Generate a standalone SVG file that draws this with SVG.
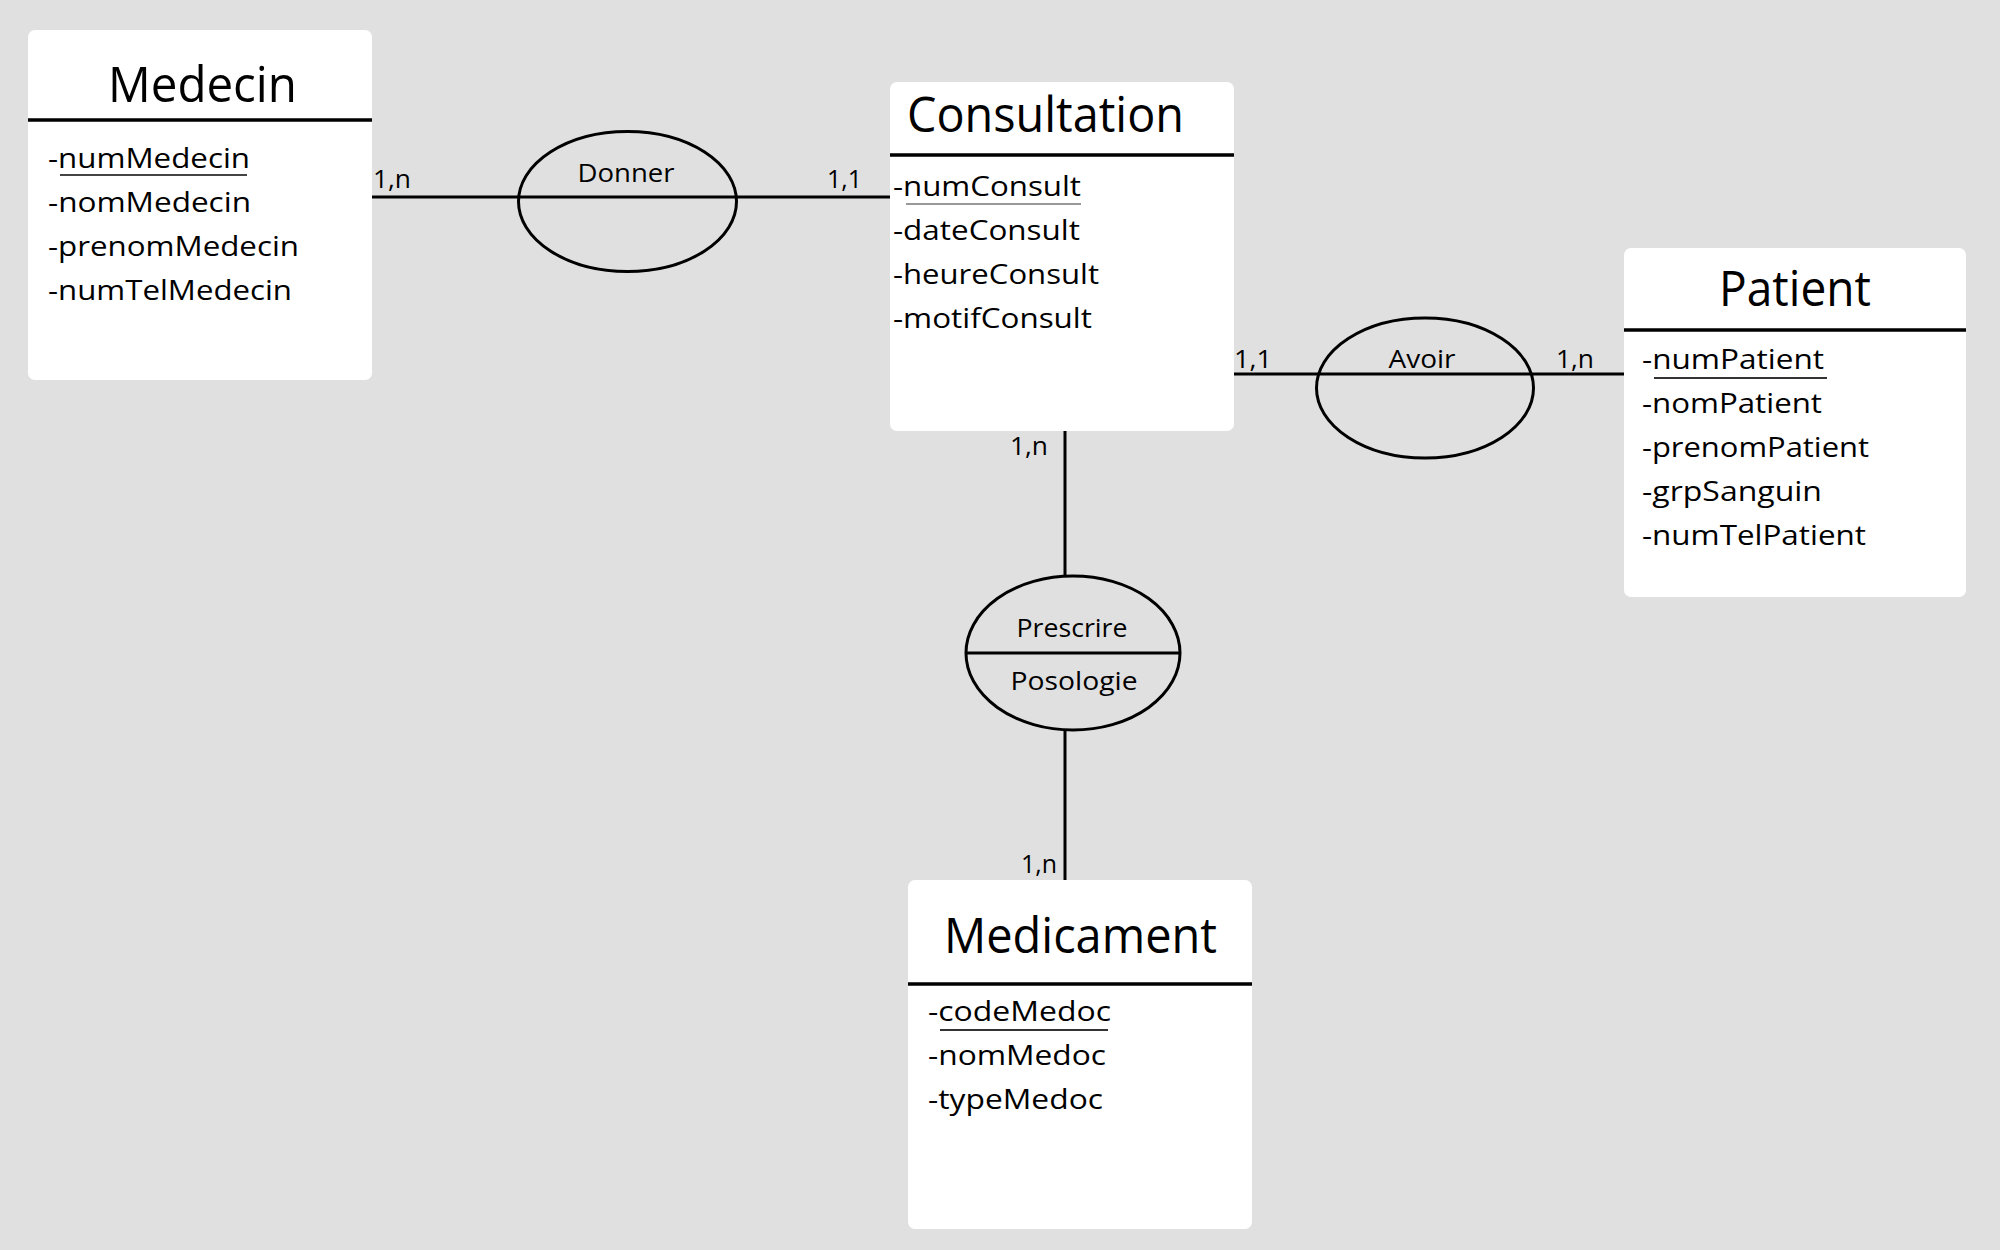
<svg xmlns="http://www.w3.org/2000/svg" width="2000" height="1250" viewBox="0 0 2000 1250">
<style>
.box{fill:#ffffff;stroke:none}
.sep{stroke:#000;stroke-width:3.5}
.title{font-family:"Open Sans","Noto Sans",sans-serif;font-size:49px;fill:#000}
.attr{font-family:"Open Sans","Noto Sans",sans-serif;font-size:28px;fill:#000}
.lbl{font-family:"Open Sans","Noto Sans",sans-serif;font-size:26px;fill:#000}
.card{font-family:"Open Sans","Noto Sans",sans-serif;font-size:25px;fill:#000}
.conn{stroke:#000;stroke-width:3;fill:none}
.rel{stroke:#000;stroke-width:3;fill:none}
.ul{stroke-width:2}
</style>
<rect x="0" y="0" width="2000" height="1250" fill="#e0e0e0"/>

<g id="connectors">
  <line class="conn" x1="372" y1="197" x2="890" y2="197"/>
  <line class="conn" x1="1232" y1="374" x2="1626" y2="374"/>
  <line class="conn" x1="1065" y1="431" x2="1065" y2="576"/>
  <line class="conn" x1="1065" y1="730" x2="1065" y2="881"/>
  <text class="card" x="373" y="188" textLength="38" lengthAdjust="spacingAndGlyphs">1,n</text>
  <text class="card" x="827" y="188" textLength="35" lengthAdjust="spacingAndGlyphs">1,1</text>
  <text class="card" x="1234" y="368" textLength="38" lengthAdjust="spacingAndGlyphs">1,1</text>
  <text class="card" x="1556" y="368" textLength="38" lengthAdjust="spacingAndGlyphs">1,n</text>
  <text class="card" x="1010" y="455" textLength="38" lengthAdjust="spacingAndGlyphs">1,n</text>
  <text class="card" x="1021" y="873" textLength="36" lengthAdjust="spacingAndGlyphs">1,n</text>
</g>

<g id="medecin">
  <rect class="box" x="28" y="30" width="344" height="350" rx="7"/>
  <line class="sep" x1="28" y1="120" x2="372" y2="120"/>
  <text class="title" x="108" y="102" textLength="189" lengthAdjust="spacingAndGlyphs">Medecin</text>
  <text class="attr" x="48" y="168" textLength="202" lengthAdjust="spacingAndGlyphs">-numMedecin</text>
  <line class="ul" x1="60" y1="175" x2="247" y2="175" stroke="#444"/>
  <text class="attr" x="48" y="212" textLength="203" lengthAdjust="spacingAndGlyphs">-nomMedecin</text>
  <text class="attr" x="48" y="256" textLength="251" lengthAdjust="spacingAndGlyphs">-prenomMedecin</text>
  <text class="attr" x="48" y="300" textLength="244" lengthAdjust="spacingAndGlyphs">-numTelMedecin</text>
</g>

<g id="consultation">
  <rect class="box" x="890" y="82" width="344" height="349" rx="7"/>
  <line class="sep" x1="890" y1="155" x2="1234" y2="155"/>
  <text class="title" x="907" y="132" textLength="277" lengthAdjust="spacingAndGlyphs">Consultation</text>
  <text class="attr" x="893" y="196" textLength="188" lengthAdjust="spacingAndGlyphs">-numConsult</text>
  <line class="ul" x1="906" y1="204" x2="1081" y2="204" stroke="#999"/>
  <text class="attr" x="893" y="240" textLength="187" lengthAdjust="spacingAndGlyphs">-dateConsult</text>
  <text class="attr" x="893" y="284" textLength="206" lengthAdjust="spacingAndGlyphs">-heureConsult</text>
  <text class="attr" x="893" y="328" textLength="199" lengthAdjust="spacingAndGlyphs">-motifConsult</text>
</g>

<g id="patient">
  <rect class="box" x="1624" y="248" width="342" height="349" rx="7"/>
  <line class="sep" x1="1624" y1="330" x2="1966" y2="330"/>
  <text class="title" x="1719" y="306" textLength="152" lengthAdjust="spacingAndGlyphs">Patient</text>
  <text class="attr" x="1642" y="369" textLength="182" lengthAdjust="spacingAndGlyphs">-numPatient</text>
  <line class="ul" x1="1654" y1="378" x2="1827" y2="378" stroke="#333"/>
  <text class="attr" x="1642" y="413" textLength="180" lengthAdjust="spacingAndGlyphs">-nomPatient</text>
  <text class="attr" x="1642" y="457" textLength="227" lengthAdjust="spacingAndGlyphs">-prenomPatient</text>
  <text class="attr" x="1642" y="501" textLength="180" lengthAdjust="spacingAndGlyphs">-grpSanguin</text>
  <text class="attr" x="1642" y="545" textLength="224" lengthAdjust="spacingAndGlyphs">-numTelPatient</text>
</g>

<g id="medicament">
  <rect class="box" x="908" y="880" width="344" height="349" rx="7"/>
  <line class="sep" x1="908" y1="984" x2="1252" y2="984"/>
  <text class="title" x="944" y="953" textLength="273" lengthAdjust="spacingAndGlyphs">Medicament</text>
  <text class="attr" x="928" y="1021" textLength="183" lengthAdjust="spacingAndGlyphs">-codeMedoc</text>
  <line class="ul" x1="940" y1="1030" x2="1108" y2="1030" stroke="#333"/>
  <text class="attr" x="928" y="1065" textLength="178" lengthAdjust="spacingAndGlyphs">-nomMedoc</text>
  <text class="attr" x="928" y="1109" textLength="175" lengthAdjust="spacingAndGlyphs">-typeMedoc</text>
</g>

<g id="donner">
  <ellipse class="rel" cx="627.5" cy="201.5" rx="109" ry="70"/>
  <text class="lbl" x="626" y="182" text-anchor="middle" textLength="97" lengthAdjust="spacingAndGlyphs">Donner</text>
</g>

<g id="avoir">
  <ellipse class="rel" cx="1425" cy="388" rx="108.5" ry="70"/>
  <text class="lbl" x="1422" y="368" text-anchor="middle" textLength="67" lengthAdjust="spacingAndGlyphs">Avoir</text>
</g>

<g id="prescrire">
  <ellipse class="rel" cx="1073" cy="653" rx="107" ry="77"/>
  <line class="rel" x1="966" y1="653" x2="1181" y2="653"/>
  <text class="lbl" x="1072" y="637" text-anchor="middle" textLength="111" lengthAdjust="spacingAndGlyphs">Prescrire</text>
  <text class="lbl" x="1074" y="690" text-anchor="middle" textLength="127" lengthAdjust="spacingAndGlyphs">Posologie</text>
</g>
</svg>
